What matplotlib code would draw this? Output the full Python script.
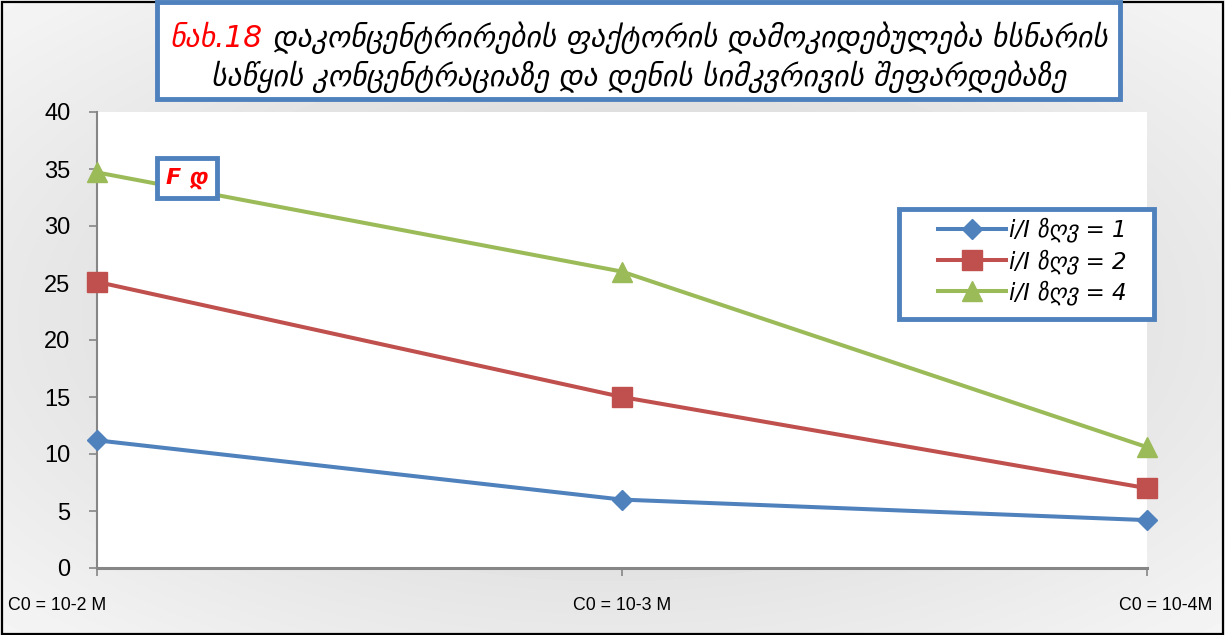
import numpy as np
import matplotlib
matplotlib.use("Agg")
import matplotlib.pyplot as plt
from matplotlib.patches import Rectangle
import matplotlib.transforms as mtrans

categories = ["C0 = 10-2 M", "C0 = 10-3 M", "C0 = 10-4M"]
series_labels = ["i/I ზღვ = 1", "i/I ზღვ = 2", "i/I ზღვ = 4"]
s1 = [11.2, 6.0, 4.2]
s2 = [25.1, 15.0, 7.0]
s4 = [34.7, 26.0, 10.6]
yticks = [0, 5, 10, 15, 20, 25, 30, 35, 40]
title_red = "ნახ.18"
title_l1 = " დაკონცენტრირების ფაქტორის დამოკიდებულება ხსნარის"
title_l2 = "საწყის კონცენტრაციაზე და დენის სიმკვრივის შეფარდებაზე"
annot = "F დ"

BLUE = "#4f81bd"; RED = "#c0504d"; GREEN = "#9bbb59"

W, H = 1225, 635
fig = plt.figure(figsize=(W/100, H/100), dpi=100)

# gradient background
bg = fig.add_axes([0, 0, 1, 1], zorder=-10)
yy, xx = np.mgrid[0:1:200j, 0:1:400j]
r = np.sqrt(((xx-0.5)/0.5)**2 + ((yy-0.5)/0.5)**2) / np.sqrt(2)
val = 0.80 + 0.16*r
bg.imshow(val, cmap="gray", vmin=0, vmax=1, aspect="auto", extent=[0, 1, 0, 1], interpolation="bilinear")
bg.set_xlim(0, 1); bg.set_ylim(0, 1); bg.axis("off")
bg.add_patch(Rectangle((0.002, 0.002), 0.996, 0.995, fill=False, ec="black", lw=1.6, transform=bg.transAxes))

ax = fig.add_axes([97/W, 1-568/H, (1147-97)/W, (568-112)/H])
ax.set_facecolor("white")
x = np.arange(len(categories))
ax.plot(x, s1, color=BLUE, lw=2.9, marker="D", ms=10, label=series_labels[0], zorder=3, clip_on=False)
ax.plot(x, s2, color=RED, lw=2.9, marker="s", ms=14, label=series_labels[1], zorder=3, clip_on=False)
ax.plot(x, s4, color=GREEN, lw=2.9, marker="^", ms=15, label=series_labels[2], zorder=3, clip_on=False)
ax.set_xlim(0, 2)
ax.set_ylim(0, 40)
ax.set_yticks(yticks)
ax.set_yticklabels([str(v) for v in yticks], fontsize=17, family="Liberation Sans")
ax.set_xticks(x)
ax.set_xticklabels(categories, fontsize=12.8, family="Liberation Sans")
ax.tick_params(axis="y", length=6, color="#868686", width=1.2, pad=13)
ax.tick_params(axis="x", length=6, color="#868686", width=1.2, pad=15)
for s in ["top", "right"]:
    ax.spines[s].set_visible(False)
for s in ["left", "bottom"]:
    ax.spines[s].set_color("#868686")
    ax.spines[s].set_linewidth(1.5)
ax.spines["bottom"].set_linewidth(2.2)
labs = ax.get_xticklabels()
labs[0].set_ha("left")
labs[2].set_ha("right")
labs[0].set_transform(labs[0].get_transform() + mtrans.ScaledTranslation(-89/100, 0, fig.dpi_scale_trans))
labs[2].set_transform(labs[2].get_transform() + mtrans.ScaledTranslation(65/100, 0, fig.dpi_scale_trans))

# legend with separate frame (inside the axes so zorder sorts properly)
frame = Rectangle((899/W, 1-319/H), (1154-899)/W, (319-209)/H, transform=fig.transFigure,
                  fc="white", ec=BLUE, lw=3.5, zorder=8, clip_on=False)
ax.add_patch(frame)
leg = ax.legend(loc="upper left", bbox_to_anchor=(933/W, 1-213/H), bbox_transform=fig.transFigure,
                frameon=False, prop={"family": "DejaVu Sans", "style": "italic", "size": 16.5},
                handlelength=3.0, borderpad=0.2, labelspacing=0.28, handletextpad=0.1, borderaxespad=0)
leg.set_zorder(10)

# annotation box
fig.text(187/W, 1-178/H, annot, color="red", fontsize=16, fontweight="bold", style="italic",
         ha="center", va="center", family="DejaVu Sans",
         bbox=dict(boxstyle="square,pad=0.4", fc="white", ec=BLUE, lw=3.5))

# title box
fig.patches.append(Rectangle((157/W, 1-99/H), (1120-157)/W, 97/H, transform=fig.transFigure,
                             fc="white", ec=BLUE, lw=3.5, zorder=5))
renderer = fig.canvas.get_renderer()
tprops = dict(fontsize=21.3, style="italic", family="DejaVu Sans", zorder=6)
tr = fig.text(0, 0, title_red, color="red", **tprops)
tb = fig.text(0, 0, title_l1, color="black", **tprops)
wr = tr.get_window_extent(renderer).width
wb = tb.get_window_extent(renderer).width
cx = (157+1120)/2
start = cx - (wr+wb)/2
y1 = 1-38/H
tr.set_position((start/W, y1)); tr.set_va("center")
tb.set_position(((start+wr)/W, y1)); tb.set_va("center")
fig.text(cx/W, 1-77/H, title_l2, color="black", ha="center", va="center", **tprops)

fig.savefig("out.png", dpi=100)
